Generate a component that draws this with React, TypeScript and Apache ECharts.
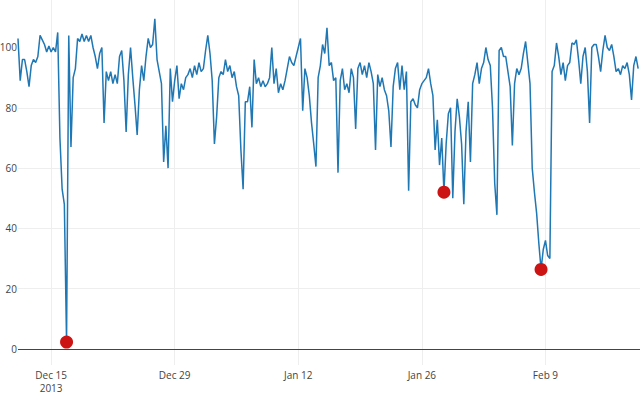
import React, { useEffect, useRef } from "react";
import * as echarts from "echarts";

// Regularly sampled series: one reading every 6 hours from the start time
const startTime = "2013-12-11T06:00:00";
const stepHours = 6;
const values: number[] = [
  103, 89, 96, 96, 92, 87, 94, 96, 95, 97,
  104, 102.5, 101, 98.5, 100.5, 98.5, 100, 98.5, 105, 70,
  53, 48, 2.3, 104, 67, 90, 93, 103, 102, 104.5,
  102, 104, 102, 104, 100, 97, 93, 98, 100, 75,
  92, 89, 92, 88, 91, 88, 97, 99, 89, 72,
  91, 100, 90, 81, 71, 86, 94, 89, 97, 103,
  100, 101, 109.5, 96, 92, 88, 62, 74, 60, 93,
  82, 89, 94, 83, 88, 86, 90, 91, 93, 90,
  94, 91, 95, 92, 93, 99, 104, 98, 89, 68,
  77, 90, 92, 91, 96, 92, 94, 90, 92, 87,
  84, 66, 53, 82, 82, 87, 73.5, 96, 88, 90,
  87, 89, 87, 88, 90, 100, 88, 93, 85, 88,
  86, 89, 93, 97, 95, 94, 97, 100, 103, 79,
  93, 90, 84, 75, 68, 60.5, 90, 94, 101, 98,
  106.5, 94, 95, 89, 90, 58.5, 89, 93, 86, 88,
  85, 93, 90, 73, 93, 95, 91, 94, 90, 95,
  92, 88, 66, 91, 87, 90, 86, 84, 79, 67,
  87, 93, 95, 86, 94, 86, 92, 52.5, 82, 83,
  81, 80, 86, 88, 89, 90, 93, 88, 84, 66,
  76, 61, 70, 52, 68, 78, 80, 50, 72, 83,
  77, 68, 48, 72, 82, 62, 88, 91, 95, 88,
  93, 95, 100, 96, 94, 80, 55, 44.5, 99, 100,
  97, 97, 92, 87, 67.5, 88, 93, 91, 93, 98,
  102, 95, 88, 60, 52, 45, 35, 26.4, 33, 36,
  31, 30, 92, 94, 101.5, 97, 91, 95, 89, 94,
  95, 101.5, 101, 102.5, 96, 88, 97, 100, 92, 75,
  100, 101, 101, 97, 92, 99, 104, 100, 99, 101,
  97, 92, 93, 91, 94, 93, 95, 91, 82.6, 94,
  97, 93,
];

const markerTimes = ["2013-12-16T18:00:00", "2014-01-28T12:00:00", "2014-02-08T12:00:00"];
const markerValues = [2.3, 52, 26.4];

const tickTimes = [
  "2013-12-15T00:00:00",
  "2013-12-29T00:00:00",
  "2014-01-12T00:00:00",
  "2014-01-26T00:00:00",
  "2014-02-09T00:00:00",
];
const tickLabels = ["Dec 15\n2013", "Dec 29", "Jan 12", "Jan 26", "Feb 9"];
const yTicks = [0, 20, 40, 60, 80, 100];
const xRange = ["2013-12-11T06:00:00", "2014-02-19T17:00:00"];
const yRange = [-5.3, 115.75];

const toMs = (s: string) => new Date(s).getTime();

export default function App() {
  const ref = useRef<HTMLDivElement>(null);

  useEffect(() => {
    document.body.style.margin = "0";
    if (!ref.current) return;
    const chart = echarts.init(ref.current, undefined, { renderer: "svg" });
    const t0 = toMs(startTime);
    const lineData = values.map((v, i) => [t0 + i * stepHours * 3600000, v]);
    const markerData = markerTimes.map((t, i) => [toMs(t), markerValues[i]]);
    const tickMs = tickTimes.map(toMs);

    chart.setOption({
      animation: false,
      textStyle: { fontFamily: "Open Sans" },
      grid: {
        left: 18,
        right: 0,
        top: 0,
        bottom: 29,
        containLabel: false,
        outerBoundsMode: "none",
      },
      xAxis: {
        type: "value",
        min: toMs(xRange[0]),
        max: toMs(xRange[1]),
        axisLine: { show: false },
        axisTick: { show: false, customValues: tickMs },
        axisLabel: {
          customValues: tickMs,
          color: "#444",
          fontSize: 10,
          margin: 4,
          lineHeight: 12.5,
          hideOverlap: false,
          formatter: (val: number) => {
            const idx = tickMs.indexOf(val);
            return idx >= 0 ? tickLabels[idx] : "";
          },
        },
        splitLine: { show: true, lineStyle: { color: "#eeeeee", width: 1 } },
      },
      yAxis: {
        type: "value",
        min: yRange[0],
        max: yRange[1],
        axisLine: { show: false },
        axisTick: { show: false, customValues: yTicks },
        axisLabel: {
          customValues: yTicks,
          color: "#444",
          fontSize: 10,
          margin: 1,
        },
        splitLine: {
          show: true,
          showMinLine: false,
          showMaxLine: false,
          lineStyle: { color: "#eeeeee", width: 1 },
        },
      },
      series: [
        {
          type: "line",
          data: lineData,
          showSymbol: false,
          symbol: "none",
          lineStyle: { color: "#1f77b4", width: 1.5 },
          z: 2,
          markLine: {
            silent: true,
            symbol: ["none", "none"],
            label: { show: false },
            lineStyle: { color: "#444444", width: 1, type: "solid" },
            data: [{ yAxis: 0 }],
          },
        },
        {
          type: "scatter",
          data: markerData,
          symbol: "circle",
          symbolSize: 13,
          itemStyle: { color: "#cc1414", opacity: 1 },
          z: 4,
        },
      ],
    });
    return () => chart.dispose();
  }, []);

  return <div ref={ref} style={{ width: 640, height: 394 }} />;
}
